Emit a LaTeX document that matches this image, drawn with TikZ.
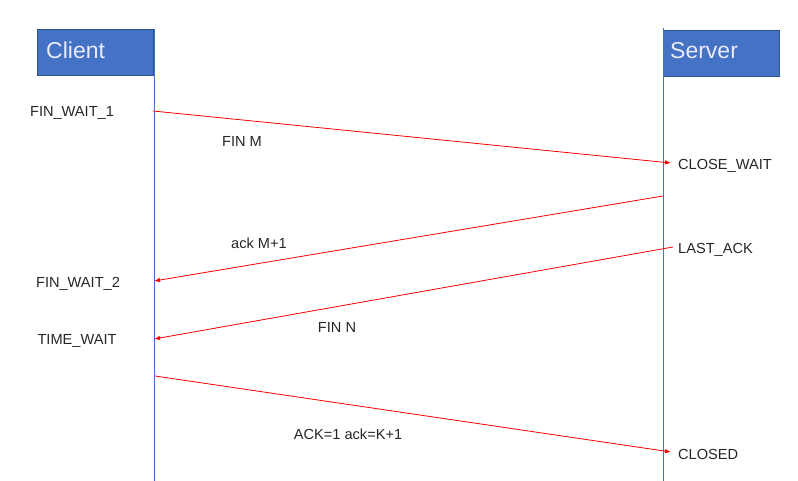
\documentclass[tikz,border=0pt]{standalone}
\usepackage{fontspec}
\setmainfont{Liberation Sans}
\usetikzlibrary{arrows.meta}
\definecolor{boxblue}{HTML}{4472C4}
\definecolor{boxedge}{HTML}{2F528F}
\begin{document}
\begin{tikzpicture}[x=1pt,y=-1pt,
  head/.style={draw=boxedge,fill=boxblue,line width=0.8pt,minimum width=116pt,minimum height=46pt,anchor=north west,inner sep=0pt},
  headtext/.style={text=white!92!blue,font=\fontsize{23}{26}\selectfont,anchor=west,inner sep=0pt},
  life/.style={draw=boxblue,line width=0.9pt},
  msg/.style={draw=red,line width=0.8pt,-{Latex[length=6pt,width=4.5pt]}},
  lbl/.style={font=\fontsize{14.6}{17}\selectfont,text=black!85,inner sep=0pt},
  st/.style={lbl,anchor=west}]
\useasboundingbox (0,0) rectangle (798,481);
% headers
\node[head] (client) at (37,29) {};
\node[head] (server) at (663,30) {};
\node[headtext] (ct) at (46,50) {Client};
\node[headtext] (stx) at (670,51) {Server};
% lifelines
\coordinate (c0) at (154,29);
\coordinate (c1) at (154,481);
\coordinate (s0) at (663,28);
\coordinate (s1) at (663,481);
\draw[life] (c0) -- (c1);
\draw[life] (s0) -- (s1);
% message endpoints
\coordinate (a1) at (153,111); \coordinate (b1) at (671,163);
\coordinate (a2) at (663,196); \coordinate (b2) at (154,281);
\coordinate (a3) at (673,247); \coordinate (b3) at (154,339);
\coordinate (a4) at (155,376); \coordinate (b4) at (671,452);
\draw[msg] (a1) -- (b1);
\draw[msg] (a2) -- (b2);
\draw[msg] (a3) -- (b3);
\draw[msg] (a4) -- (b4);
% states
\node[lbl] (fw1) at (72,113) {FIN\_WAIT\_1};
\node[lbl] (fw2) at (78,284) {FIN\_WAIT\_2};
\node[lbl] (tw) at (77,341) {TIME\_WAIT};
\node[st] (cw) at (678,166) {CLOSE\_WAIT};
\node[st] (la) at (678,250) {LAST\_ACK};
\node[st] (cl) at (678,454) {CLOSED};
% message labels
\node[lbl] (m1) at (242,141) {FIN M};
\node[lbl] (m2) at (259,243) {ack M+1};
\node[lbl] (m3) at (337,327) {FIN N};
\node[lbl] (m4) at (348,434) {ACK=1 ack=K+1};
\end{tikzpicture}
\end{document}
